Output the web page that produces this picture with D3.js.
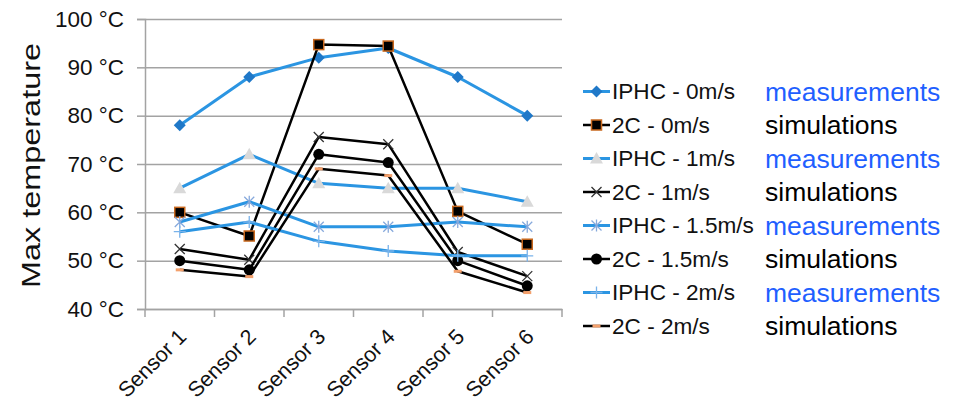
<!DOCTYPE html>
<html>
<head>
<meta charset="utf-8">
<script src="https://cdn.jsdelivr.net/npm/d3@7"></script>
<style>
  body { margin: 0; background: #fff; }
  text { font-family: "Liberation Sans", Arial, sans-serif; }
</style>
</head>
<body>
<div id="chart"></div>
<script>
const width = 959;
const height = 405;

// datos
const sensors = ['Sensor 1', 'Sensor 2', 'Sensor 3', 'Sensor 4', 'Sensor 5', 'Sensor 6'];
const yTicks = [40, 50, 60, 70, 80, 90, 100];

const iphc0  = [78, 88, 92, 94, 88, 80];
const sim0   = [60, 55.1, 94.7, 94.4, 60.2, 53.4];
const iphc1  = [65, 72, 66, 65, 65, 62.2];
const sim1   = [52.4, 50.2, 75.6, 74.1, 51.8, 46.8];
const iphc15 = [58, 62.2, 57, 57, 58, 57];
const sim15  = [50, 48.1, 72, 70.3, 50, 44.8];
const iphc2  = [56, 58, 54, 52, 51, 51];
const sim2   = [48.1, 46.7, 69, 67.6, 47.8, 43.4];

const seriesNames = ['IPHC - 0m/s', '2C - 0m/s', 'IPHC - 1m/s', '2C - 1m/s',
                     'IPHC - 1.5m/s', '2C - 1.5m/s', 'IPHC - 2m/s', '2C - 2m/s'];
const seriesValues = [iphc0, sim0, iphc1, sim1, iphc15, sim15, iphc2, sim2];
const sideNotes = ['measurements', 'simulations', 'measurements', 'simulations',
                   'measurements', 'simulations', 'measurements', 'simulations'];

// estilos
const blue = '#2b95e2';
const markers = ['diamond', 'square', 'triangle', 'times', 'asterisk', 'circle', 'plus', 'dash'];

const plotLeft = 145, plotRight = 562, plotTop = 19, plotBottom = 309;

const svg = d3.select('#chart').append('svg')
  .attr('width', width)
  .attr('height', height);

const x = d3.scaleBand()
  .domain(sensors)
  .range([plotLeft, plotRight]);

const y = d3.scaleLinear()
  .domain([40, 100])
  .range([plotBottom, plotTop]);

// Rejilla
const grid = svg.append('g')
  .attr('transform', `translate(${plotLeft},0)`)
  .call(d3.axisLeft(y).tickValues(yTicks).tickSize(-(plotRight - plotLeft)).tickFormat(''));
grid.select('.domain').remove();
grid.selectAll('line').attr('stroke', '#a3a3a3').attr('stroke-width', 1.5);

// Eje Y
const yAxis = svg.append('g')
  .attr('transform', `translate(${plotLeft},0)`)
  .call(d3.axisLeft(y).tickValues(yTicks).tickSize(8).tickPadding(13)
    .tickFormat(d => `${d} °C`));
yAxis.select('.domain').attr('stroke', '#a3a3a3').attr('stroke-width', 1.5);
yAxis.selectAll('line').attr('stroke', '#a3a3a3').attr('stroke-width', 1.5);
yAxis.selectAll('text')
  .attr('font-size', 22.5)
  .attr('font-family', '"Liberation Sans", Arial, sans-serif')
  .attr('fill', '#111');

// Eje X
const xAxis = svg.append('g')
  .attr('transform', `translate(0,${plotBottom})`)
  .call(d3.axisBottom(x).tickSize(0).tickSizeOuter(0).tickPadding(0));
xAxis.select('.domain').attr('stroke', '#a3a3a3').attr('stroke-width', 1.5);
xAxis.selectAll('text')
  .attr('font-size', 21.5)
  .attr('font-family', '"Liberation Sans", Arial, sans-serif')
  .attr('fill', '#111')
  .attr('text-anchor', 'end')
  .attr('dy', 0)
  .attr('transform', 'translate(8,29) rotate(-45)');

const edges = sensors.map(d => x(d)).concat([x.range()[1]]);
xAxis.selectAll('.edge')
  .data(edges)
  .enter()
  .append('line')
  .attr('class', 'edge')
  .attr('x1', d => d).attr('x2', d => d)
  .attr('y1', 0).attr('y2', 8)
  .attr('stroke', '#a3a3a3')
  .attr('stroke-width', 1.5);

// Titulo eje Y
svg.append('text')
  .attr('transform', 'translate(40,165.5) rotate(-90)')
  .attr('text-anchor', 'middle')
  .attr('font-size', 25)
  .attr('fill', '#111')
  .attr('textLength', 245)
  .attr('lengthAdjust', 'spacingAndGlyphs')
  .text('Max temperature');

// Marcadores
function drawMarker(g, type) {
  if (type === 'diamond') {
    g.append('path').attr('d', 'M0,-6L6,0L0,6L-6,0Z').attr('fill', '#1f78c8');
  } else if (type === 'square') {
    g.append('rect').attr('x', -5).attr('y', -5).attr('width', 10).attr('height', 10)
      .attr('fill', '#000').attr('stroke', '#c8681e').attr('stroke-width', 1.5);
  } else if (type === 'triangle') {
    g.append('path').attr('d', 'M0,-6.5L6.5,5L-6.5,5Z').attr('fill', '#d9d9d9');
  } else if (type === 'times') {
    g.append('path').attr('d', 'M-5,-5L5,5M-5,5L5,-5')
      .attr('stroke', '#333').attr('stroke-width', 1.3).attr('fill', 'none');
  } else if (type === 'asterisk') {
    g.append('path').attr('d', 'M-5,-5L5,5M-5,5L5,-5M0,-6V6')
      .attr('stroke', '#86a9dc').attr('stroke-width', 1.3).attr('fill', 'none');
  } else if (type === 'circle') {
    g.append('circle').attr('r', 5.5).attr('fill', '#000');
  } else if (type === 'plus') {
    g.append('path').attr('d', 'M-6,0H6M0,-6V6')
      .attr('stroke', '#7ab3ea').attr('stroke-width', 1.3).attr('fill', 'none');
  } else if (type === 'dash') {
    g.append('rect').attr('x', -4).attr('y', -1.5).attr('width', 8).attr('height', 3)
      .attr('fill', '#f3a06c');
  }
}

const line = d3.line()
  .x((d, i) => x(sensors[i]) + x.bandwidth() / 2)
  .y(d => y(d));

// Series
seriesValues.forEach((vals, k) => {
  const isSim = k % 2 === 1;
  const g = svg.append('g').attr('class', 'serie');
  g.append('path')
    .datum(vals)
    .attr('d', line)
    .attr('fill', 'none')
    .attr('stroke', isSim ? '#000' : blue)
    .attr('stroke-width', isSim ? 2.5 : 3)
    .attr('stroke-linejoin', 'round');
  g.selectAll('.mk')
    .data(vals)
    .enter()
    .append('g')
    .attr('class', 'mk')
    .attr('transform', (d, i) => `translate(${x(sensors[i]) + x.bandwidth() / 2},${y(d)})`)
    .each(function () { drawMarker(d3.select(this), markers[k]); });
});

// Leyenda
const legendTop = 91.5, legendStep = 33.5;
const legend = svg.append('g').attr('class', 'legend');
seriesNames.forEach((name, k) => {
  const isSim = k % 2 === 1;
  const row = legend.append('g')
    .attr('transform', `translate(583,${legendTop + k * legendStep})`);
  row.append('line')
    .attr('x1', 0).attr('x2', 27)
    .attr('stroke', isSim ? '#000' : blue)
    .attr('stroke-width', isSim ? 2.5 : 3);
  const m = row.append('g').attr('transform', 'translate(13.5,0)');
  drawMarker(m, markers[k]);
  row.append('text')
    .attr('x', 29)
    .attr('dy', '0.35em')
    .attr('font-size', 22.6)
    .attr('fill', '#111')
    .text(name);
  row.append('text')
    .attr('x', 182)
    .attr('dy', '0.35em')
    .attr('font-size', 26.5)
    .attr('fill', isSim ? '#000' : '#1f5fff')
    .text(sideNotes[k]);
});
</script>
</body>
</html>
